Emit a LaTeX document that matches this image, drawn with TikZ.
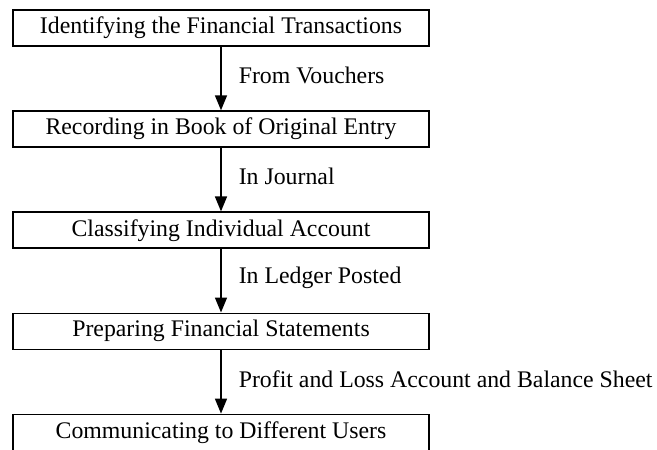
\documentclass[tikz,border=0pt]{standalone}
\usepackage{fontspec}
\setmainfont{Liberation Serif}
\usetikzlibrary{positioning, arrows.meta}

\begin{document}
\begin{tikzpicture}[
  x=1pt, y=1pt,
  node distance=63.5pt,
  stagebox/.style={draw, line width=1.6pt, minimum width=416pt,
              minimum height=36pt, inner sep=0pt, align=center,
              font=\fontsize{23.8}{28}\selectfont},
  steplabel/.style={anchor=west, inner sep=0pt, xshift=17pt, yshift=3pt,
              font=\fontsize{23.8}{28}\selectfont},
  >={Triangle[length=15pt, width=12pt]}
]
  \useasboundingbox (0,0) rectangle (657,-450);

  % Stages
  \node[stagebox] (ident) at (221,-28) {Identifying the Financial Transactions};
  \node[stagebox, below=of ident] (record) {Recording in Book of Original Entry};
  \node[stagebox, below=of record] (classify) {Classifying Individual Account};
  \node[stagebox, below=of classify] (prepare) {Preparing Financial Statements};
  \node[stagebox, below=of prepare] (commun) {Communicating to Different Users};

  % Arrows with labels
  \draw[->, line width=1.6pt] (ident) -- (record)
    node[midway, steplabel] {From Vouchers};
  \draw[->, line width=1.6pt] (record) -- (classify)
    node[midway, steplabel] {In Journal};
  \draw[->, line width=1.6pt] (classify) -- (prepare)
    node[midway, steplabel] {In Ledger Posted};
  \draw[->, line width=1.6pt] (prepare) -- (commun)
    node[midway, steplabel] {Profit and Loss Account and Balance Sheet};
\end{tikzpicture}
\end{document}
